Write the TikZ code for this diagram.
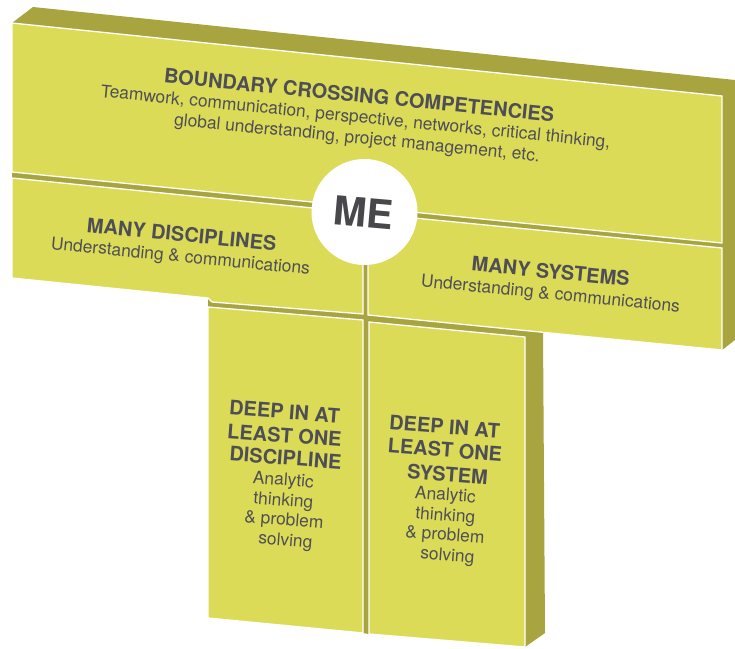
\documentclass[tikz,border=0pt]{standalone}
\usepackage{fontspec}
\setmainfont{TeX Gyre Heros}
\definecolor{face}{HTML}{DCDB58}
\definecolor{side}{HTML}{A8A43F}
\definecolor{ink}{HTML}{4E4F56}
\definecolor{meink}{HTML}{47474C}
\begin{document}
\begin{tikzpicture}[x=1pt,y=-1pt,
  facebox/.style={fill=face, draw=white, line width=1.3pt, line join=miter},
  darkbody/.style={fill=side, draw=none},
  ttl/.style={font=\fontsize{20}{22}\selectfont\bfseries, text=ink, anchor=base, inner sep=0pt},
  sub/.style={font=\fontsize{17.4}{20}\selectfont, text=ink, anchor=base, inner sep=0pt}]
\useasboundingbox (0,0) rectangle (735,648);
\fill[white] (0,0) rectangle (735,648);
% dark silhouette (top, side and gap faces)
\path[darkbody] (12,23) -- (33,7) -- (735,80) -- (735,340) -- (722,350) -- (543,332.3)
  -- (545,633) -- (525,647) -- (369,634) -- (363,633) -- (208,618) -- (208,298)
  -- (12,278) -- cycle;
% front faces
\path[facebox] (12,23) -- (722,96) -- (722,243) -- (12,172) -- cycle;
\path[facebox] (369,322) -- (525,337) -- (525,647) -- (369,634) -- cycle;
\path[facebox] (208,307) -- (363,320) -- (363,633) -- (208,618) -- cycle;
\path[facebox] (12,178) -- (363,213) -- (363,314) -- (212,302) -- (208,298) -- (12,278) -- cycle;
\path[facebox] (368,213.5) -- (722,248) -- (722,350) -- (368,315) -- cycle;
% ME circle
\fill[white] (364.5,212) circle[radius=53];
\node[font=\fontsize{40}{40}\selectfont\bfseries, text=meink, anchor=base, inner sep=0pt, rotate=-5] (me) at (362,227.5) {ME};
% top block text
\node[ttl, rotate=-5.7] (bcTitle) at (358.5,102.3) {BOUNDARY CROSSING COMPETENCIES};
\node[sub, rotate=-5.7] (bcL1) at (355,122.5) {Teamwork, communication, perspective, networks, critical thinking,};
\node[sub, rotate=-5.7] (bcL2) at (356.5,143.3) {global understanding, project management, etc.};
% row 2
\node[ttl, rotate=-5.6] (mdTitle) at (181,241.5) {MANY DISCIPLINES};
\node[sub, rotate=-5.6] (mdSub) at (180,262) {Understanding \& communications};
\node[ttl, rotate=-5.6] (msTitle) at (550,278.5) {MANY SYSTEMS};
\node[sub, rotate=-5.6] (msSub) at (550,299.5) {Understanding \& communications};
% left stem
\node[ttl, rotate=-4.3] (ls1) at (284,419) {DEEP IN AT};
\node[ttl, rotate=-4.3] (ls2) at (284,442.5) {LEAST ONE};
\node[ttl, rotate=-4.3] (ls3) at (285,465) {DISCIPLINE};
\node[sub, rotate=-4.3] (ls4) at (283,485.5) {Analytic};
\node[sub, rotate=-4.3] (ls5) at (283,506) {thinking};
\node[sub, rotate=-4.3] (ls6) at (283.5,525.5) {\& problem};
\node[sub, rotate=-4.3] (ls7) at (285,546) {solving};
% right stem
\node[ttl, rotate=-4.3] (rs1) at (444,434) {DEEP IN AT};
\node[ttl, rotate=-4.3] (rs2) at (444.5,457) {LEAST ONE};
\node[ttl, rotate=-4.3] (rs3) at (447,481.5) {SYSTEM};
\node[sub, rotate=-4.3] (rs4) at (445,500.5) {Analytic};
\node[sub, rotate=-4.3] (rs5) at (445,521) {thinking};
\node[sub, rotate=-4.3] (rs6) at (444.5,540.5) {\& problem};
\node[sub, rotate=-4.3] (rs7) at (447,561) {solving};
\end{tikzpicture}
\end{document}
